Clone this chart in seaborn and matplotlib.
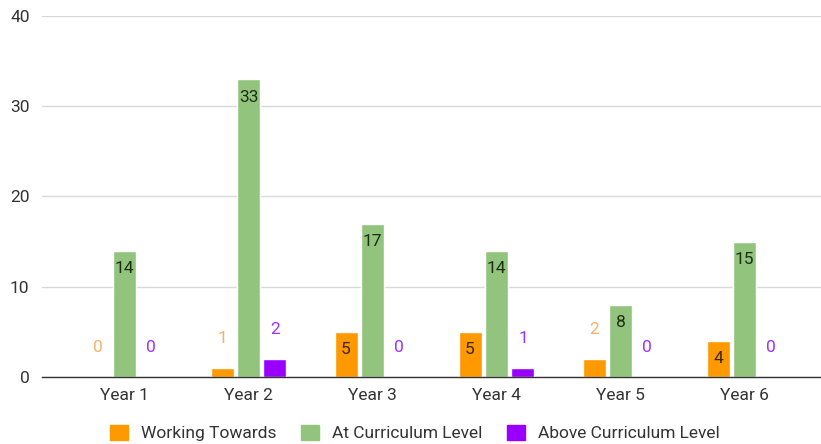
import matplotlib
matplotlib.use("Agg")
import matplotlib.pyplot as plt
import seaborn as sns
import pandas as pd

years = ["Year 1", "Year 2", "Year 3", "Year 4", "Year 5", "Year 6"]
series = ["Working Towards", "At Curriculum Level", "Above Curriculum Level"]
working_towards = [0, 1, 5, 5, 2, 4]
at_level = [14, 33, 17, 14, 8, 15]
above_level = [0, 2, 0, 1, 0, 0]

colors = ["#ff9900", "#93c47d", "#9900ff"]
inside_colors = ["#3d2500", "#1c2e14", "#2a0047"]
outside_colors = ["#f6b26b", "#93c47d", "#9933ff"]

rows = []
for name, vals in zip(series, [working_towards, at_level, above_level]):
    for y, v in zip(years, vals):
        rows.append({"Year": y, "Series": name, "Count": v})
df = pd.DataFrame(rows)

sns.set_theme(style="white")
plt.rcParams["font.family"] = ["Roboto", "DejaVu Sans"]

FS = 12.5

fig = plt.figure(figsize=(8.21, 4.44), dpi=100)
ax = fig.add_axes([42 / 821, 1 - 377 / 444, 1 - 42 / 821, (377 - 16) / 444])

sns.barplot(data=df, x="Year", y="Count", hue="Series", hue_order=series,
            order=years, palette=colors, width=0.64, gap=0.13,
            saturation=1, ax=ax, legend=False)

ax.set_ylim(0, 40)
ax.set_xlim((42 - 124.5) / 124, (821 - 124.5) / 124)
ax.set_yticks([0, 10, 20, 30, 40])
ax.yaxis.grid(True, color="#d9d9d9", linewidth=1)
ax.set_axisbelow(True)
for s in ["top", "right", "left"]:
    ax.spines[s].set_visible(False)
ax.spines["bottom"].set_color("#333333")
ax.spines["bottom"].set_linewidth(1)
ax.tick_params(axis="both", length=0, labelsize=FS, labelcolor="#333333")
ax.tick_params(axis="y", pad=9)
ax.tick_params(axis="x", pad=8)
ax.set_xlabel("")
ax.set_ylabel("")

px = 361 / 40  # pixels per unit on the value axis
for ci, cont in enumerate(ax.containers):
    for bar in cont:
        v = bar.get_height()
        x = bar.get_x() + bar.get_width() / 2
        if v >= 4:
            ax.text(x, v - 18 / px, f"{int(v)}", ha="center", va="center",
                    fontsize=FS, color=inside_colors[ci])
        else:
            ax.text(x, v + 29 / px, f"{int(v)}", ha="center", va="center",
                    fontsize=FS, color=outside_colors[ci])

handles = [plt.Rectangle((0, 0), 1, 1, color=c) for c in colors]
fig.legend(handles, series, loc="center", bbox_to_anchor=(415 / 821, 1 - 433 / 444),
           ncol=3, frameon=False, fontsize=FS, handlelength=1.0, handleheight=1.0,
           columnspacing=1.45, handletextpad=0.75, labelcolor="#333333")

fig.savefig("out.png", dpi=100)
